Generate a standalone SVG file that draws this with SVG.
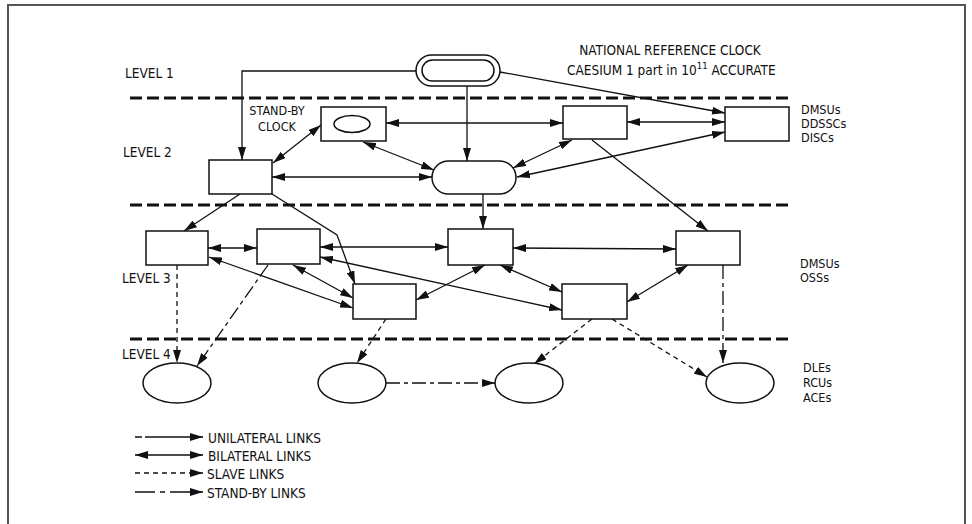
<svg xmlns="http://www.w3.org/2000/svg" width="972" height="524" viewBox="0 0 972 524">
<style>
text{font-family:"Liberation Sans Narrow","DejaVu Sans Condensed","Liberation Sans",sans-serif;fill:#111}
.lab{font-size:13.5px}
.sb2{font-size:12.5px}
.sm{font-size:12.5px}
.lg{font-size:13.5px}
.n{fill:#fff;stroke:#111;stroke-width:1.5}
.sep{fill:none;stroke:#111;stroke-width:3;stroke-dasharray:12 5}
.c{fill:none;stroke:#111;stroke-width:1.3}
.u{marker-end:url(#ah)}
.b{marker-start:url(#ah);marker-end:url(#ah)}
.s{stroke-dasharray:5 4}
.sb{stroke-dasharray:14 4 4 4}
</style>
<defs>
<marker id="ah" viewBox="0 0 13 8" refX="13" refY="4" markerWidth="13" markerHeight="8" markerUnits="userSpaceOnUse" orient="auto-start-reverse">
<path d="M0,0 L13,4 L0,8 z" fill="#111"/>
</marker>
</defs>
<rect width="972" height="524" fill="#fff"/>
<path d="M8,530 V5 H965 V530" fill="none" stroke="#555" stroke-width="2"/>

<g id="separators">
<line class="sep" x1="130" y1="98" x2="790" y2="98"/>
<line class="sep" x1="130" y1="205" x2="790" y2="205"/>
<line class="sep" x1="130" y1="339" x2="790" y2="339"/>
</g>

<g id="labels">
<text class="lab" x="125" y="78">LEVEL 1</text>
<text class="lab" x="123" y="157">LEVEL 2</text>
<text class="lab" x="122" y="283">LEVEL 3</text>
<text class="lab" x="122" y="359">LEVEL 4</text>
<text class="lab" x="670" y="55" text-anchor="middle">NATIONAL REFERENCE CLOCK</text>
<text class="lab" x="567" y="75">CAESIUM 1 part in 10<tspan font-size="9.5px" dy="-6">11</tspan><tspan dy="6"> ACCURATE</tspan></text>
<text class="sb2" x="277" y="115" text-anchor="middle">STAND-BY</text>
<text class="sb2" x="277" y="131" text-anchor="middle">CLOCK</text>
<text class="sm" x="801" y="114">DMSUs</text>
<text class="sm" x="801" y="128">DDSSCs</text>
<text class="sm" x="801" y="142">DISCs</text>
<text class="sm" x="800" y="268">DMSUs</text>
<text class="sm" x="800" y="282">OSSs</text>
<text class="sm" x="803" y="372">DLEs</text>
<text class="sm" x="803" y="387">RCUs</text>
<text class="sm" x="803" y="402">ACEs</text>
</g>

<g id="connectors">
<path class="c u" d="M416,71 H242 V160"/>
<path class="c u" d="M467,86 V161"/>
<path class="c u" d="M500,72 L725,113"/>
<path class="c b" d="M386,123 L563,123"/>
<path class="c b" d="M627,122 L725,122"/>
<path class="c b" d="M725,132 L517,177"/>
<path class="c b" d="M572,140 L513,168"/>
<path class="c b" d="M321,125 L273,163"/>
<path class="c b" d="M363,142 L434,170"/>
<path class="c b" d="M272,177 L432,177"/>
<path class="c u" d="M592,140 L708,231"/>
<path class="c u" d="M240,194 L184,231"/>
<path class="c u" d="M272,194 L337,235 L355,284"/>
<path class="c u" d="M483,194 V229"/>
<path class="c b" d="M208,248 L257,248"/>
<path class="c b" d="M320,247 L448,247"/>
<path class="c b" d="M513,248 L676,249"/>
<path class="c b" d="M209,257 L353,308"/>
<path class="c b" d="M293,265 L353,298"/>
<path class="c b" d="M320,257 L562,310"/>
<path class="c b" d="M485,265 L416,300"/>
<path class="c b" d="M500,265 L562,292"/>
<path class="c b" d="M688,265 L627,302"/>
<path class="c u s" d="M177,265 V363"/>
<path class="c u sb" d="M268,265 L197,366"/>
<path class="c u s" d="M386,319 L357,363"/>
<path class="c u s" d="M592,319 L534,364"/>
<path class="c u s" d="M612,319 L707,377"/>
<path class="c u sb" d="M723,265 V363"/>
<path class="c u sb" d="M386,383 L495,383"/>
</g>

<g id="national-clock">
<rect class="n" x="416" y="55" width="84" height="31" rx="15.5"/>
<rect class="n" x="422" y="60" width="72" height="21" rx="10.5"/>
</g>
<g id="standby-clock">
<rect class="n" x="321" y="107" width="65" height="34"/>
<ellipse class="n" cx="352" cy="124" rx="18" ry="8.5"/>
</g>
<g id="l2-left"><rect class="n" x="209" y="160" width="63" height="34"/></g>
<g id="l2-top"><rect class="n" x="563" y="106" width="64" height="33"/></g>
<g id="l2-right"><rect class="n" x="725" y="107" width="64" height="34"/></g>
<g id="l2-pill"><rect class="n" x="432" y="161" width="84" height="33" rx="16.5"/></g>
<g id="l3-a"><rect class="n" x="146" y="231" width="62" height="34"/></g>
<g id="l3-b"><rect class="n" x="257" y="229" width="63" height="35"/></g>
<g id="l3-c"><rect class="n" x="353" y="284" width="63" height="35"/></g>
<g id="l3-d"><rect class="n" x="448" y="229" width="65" height="36"/></g>
<g id="l3-e"><rect class="n" x="676" y="231" width="64" height="34"/></g>
<g id="l3-f"><rect class="n" x="562" y="284" width="65" height="35"/></g>
<g id="l4-1"><ellipse class="n" cx="177" cy="383" rx="34" ry="20"/></g>
<g id="l4-2"><ellipse class="n" cx="352" cy="383" rx="34" ry="20"/></g>
<g id="l4-3"><ellipse class="n" cx="529" cy="383" rx="34" ry="20"/></g>
<g id="l4-4"><ellipse class="n" cx="740" cy="383" rx="34" ry="20"/></g>

<g id="legend">
<path class="c u" d="M135,437 H203" stroke-dasharray="7 3 200"/>
<path class="c b" d="M135,455 H203"/>
<path class="c u s" d="M135,473 H203"/>
<path class="c u" d="M135,492 H203" stroke-dasharray="20 5 5 5 40"/>
<text class="lg" x="208" y="443">UNILATERAL LINKS</text>
<text class="lg" x="208" y="461">BILATERAL LINKS</text>
<text class="lg" x="207" y="479">SLAVE LINKS</text>
<text class="lg" x="207" y="498">STAND-BY LINKS</text>
</g>
</svg>
